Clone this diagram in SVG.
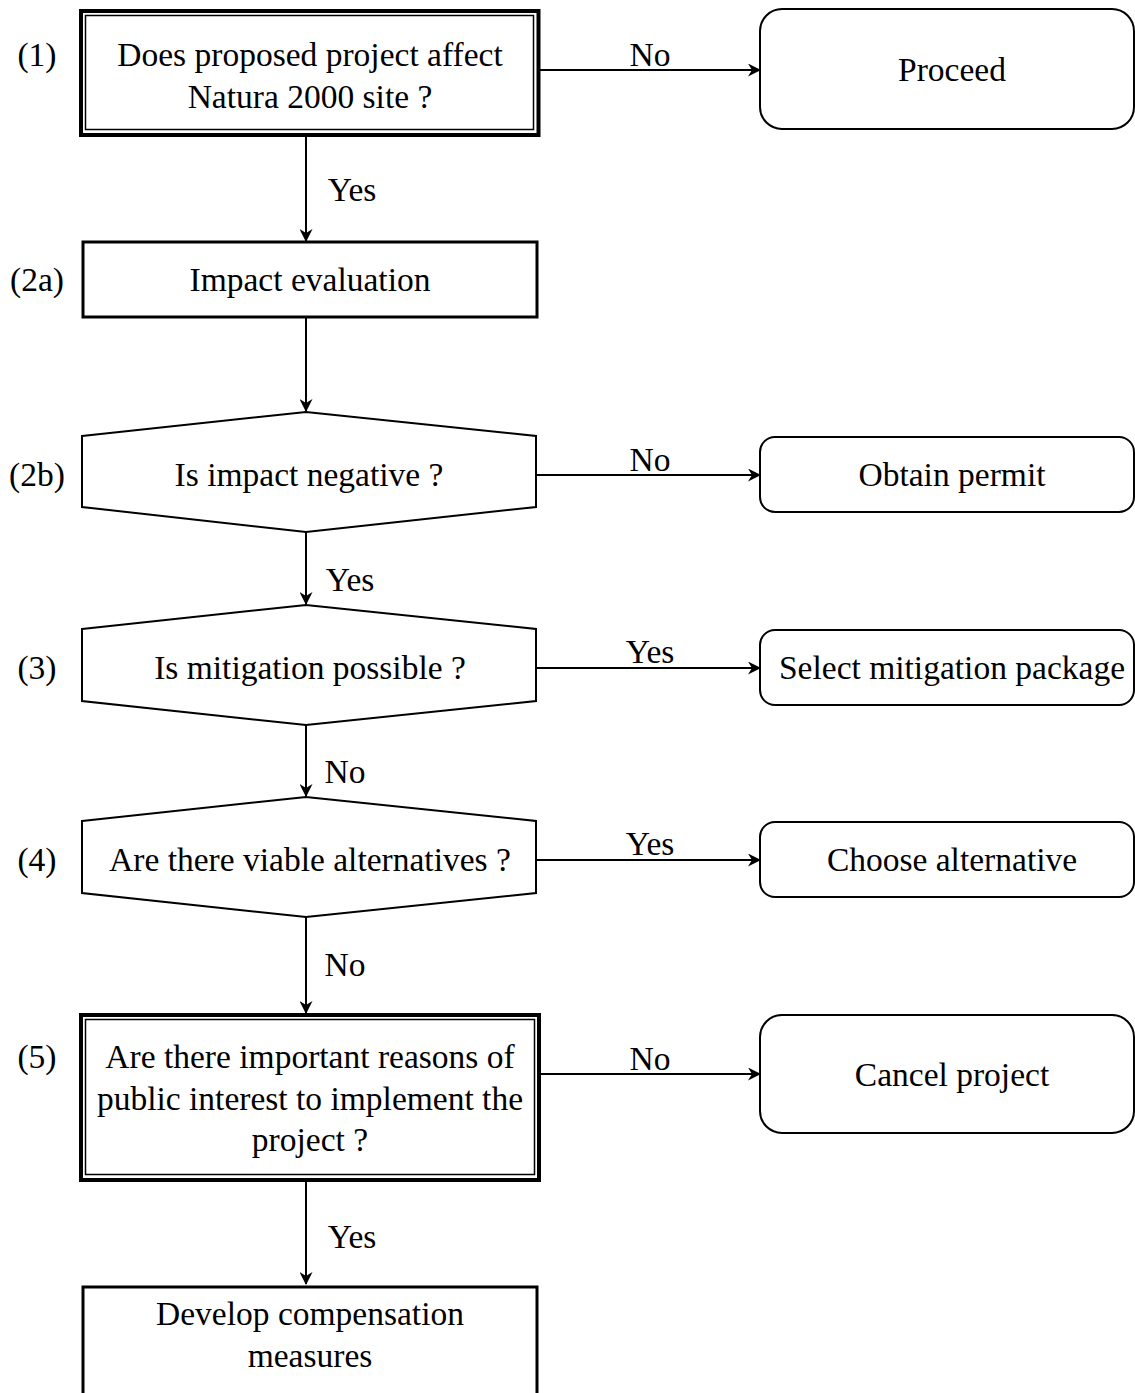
<svg xmlns="http://www.w3.org/2000/svg" width="1135" height="1393" viewBox="0 0 1135 1393">
<style>
text{font-family:"Liberation Serif","Times New Roman",serif;font-size:33.5px;fill:#000;text-anchor:middle;}
.box{fill:#fff;stroke:#000;stroke-width:3;}
.rnd{fill:#fff;stroke:#000;stroke-width:2;}
.thick{fill:#fff;stroke:#000;stroke-width:4;}
.thin{fill:none;stroke:#000;stroke-width:1.5;}
.con{fill:none;stroke:#000;stroke-width:2;marker-end:url(#ah);}
</style>
<defs>
<marker id="ah" viewBox="0 0 13 13" refX="12" refY="6.5" markerWidth="13" markerHeight="13" markerUnits="userSpaceOnUse" orient="auto">
<path d="M0,0 L13,6.5 L0,13 L4,6.5 z" fill="#000"/>
</marker>
</defs>
<rect width="1135" height="1393" fill="#fff"/>
<g id="connectors">
<line class="con" x1="540" y1="70" x2="760" y2="70"/>
<line class="con" x1="306" y1="137" x2="306" y2="241"/>
<line class="con" x1="306" y1="318" x2="306" y2="411"/>
<line class="con" x1="536" y1="475" x2="760" y2="475"/>
<line class="con" x1="306" y1="532" x2="306" y2="604"/>
<line class="con" x1="536" y1="668" x2="760" y2="668"/>
<line class="con" x1="306" y1="725" x2="306" y2="796"/>
<line class="con" x1="536" y1="860" x2="760" y2="860"/>
<line class="con" x1="306" y1="917" x2="306" y2="1013"/>
<line class="con" x1="540" y1="1074" x2="760" y2="1074"/>
<line class="con" x1="306" y1="1182" x2="306" y2="1284"/>
<text x="650" y="66">No</text>
<text x="352" y="201">Yes</text>
<text x="650" y="471">No</text>
<text x="350" y="591">Yes</text>
<text x="650" y="663">Yes</text>
<text x="345" y="783">No</text>
<text x="650" y="855">Yes</text>
<text x="345" y="976">No</text>
<text x="650" y="1070">No</text>
<text x="352" y="1248">Yes</text>
</g>
<g id="n1">
<rect class="thick" x="81" y="11" width="457.5" height="124"/>
<rect class="thin" x="85.5" y="15.5" width="448" height="114"/>
<text x="310" y="66">Does proposed project affect</text>
<text x="310" y="108">Natura 2000 site ?</text>
<text x="37" y="66">(1)</text>
</g>
<g id="proceed">
<rect class="rnd" x="760" y="9" width="374" height="120" rx="22"/>
<text x="952" y="81">Proceed</text>
</g>
<g id="n2a">
<rect class="box" x="83" y="242" width="454" height="75"/>
<text x="310" y="291">Impact evaluation</text>
<text x="37" y="291">(2a)</text>
</g>
<g id="n2b">
<polygon class="rnd" points="82,436 306,412 536,436 536,507 306,532 82,507"/>
<text x="309" y="486">Is impact negative ?</text>
<text x="37" y="486">(2b)</text>
</g>
<g id="permit">
<rect class="rnd" x="760" y="437" width="374" height="75" rx="15"/>
<text x="952" y="486">Obtain permit</text>
</g>
<g id="n3">
<polygon class="rnd" points="82,629 306,605 536,629 536,701 306,725 82,701"/>
<text x="310" y="679">Is mitigation possible ?</text>
<text x="37" y="679">(3)</text>
</g>
<g id="mitigation">
<rect class="rnd" x="760" y="630" width="374" height="75" rx="15"/>
<text x="952" y="679">Select mitigation package</text>
</g>
<g id="n4">
<polygon class="rnd" points="82,821 306,797 536,821 536,893 306,917 82,893"/>
<text x="310" y="871">Are there viable alternatives ?</text>
<text x="37" y="871">(4)</text>
</g>
<g id="alternative">
<rect class="rnd" x="760" y="822" width="374" height="75" rx="15"/>
<text x="952" y="871">Choose alternative</text>
</g>
<g id="n5">
<rect class="thick" x="81" y="1015" width="458" height="165"/>
<rect class="thin" x="85.5" y="1019.5" width="449" height="155"/>
<text x="310" y="1068">Are there important reasons of</text>
<text x="310" y="1110">public interest to implement the</text>
<text x="310" y="1151">project ?</text>
<text x="37" y="1068">(5)</text>
</g>
<g id="cancel">
<rect class="rnd" x="760" y="1015" width="374" height="118" rx="22"/>
<text x="952" y="1086">Cancel project</text>
</g>
<g id="compensation">
<rect class="box" x="83" y="1287" width="454" height="120"/>
<text x="310" y="1325">Develop compensation</text>
<text x="310" y="1367">measures</text>
</g>
</svg>
